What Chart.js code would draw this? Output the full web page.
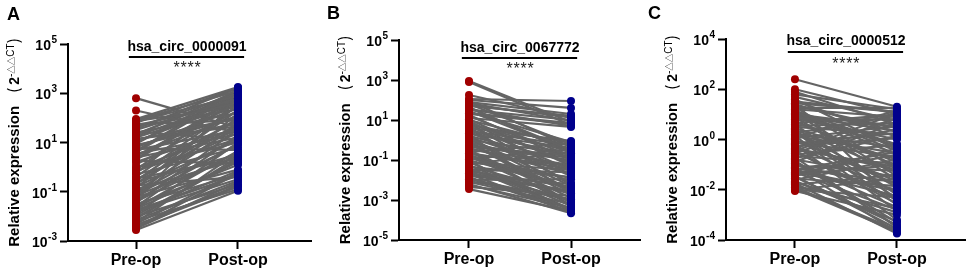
<!DOCTYPE html>
<html>
<head>
<meta charset="utf-8">
<script src="https://cdn.jsdelivr.net/npm/chart.js@4.4.0/dist/chart.umd.min.js"></script>
<style>
  html, body { margin: 0; padding: 0; background: #fff; }
  #wrap { position: relative; width: 969px; height: 271px; overflow: hidden; }
  #wrap canvas { position: absolute; top: 0; }
</style>
</head>
<body>
<div id="wrap">
  <canvas id="cA" width="323" height="271" style="left:0px"></canvas>
  <canvas id="cB" width="323" height="271" style="left:323px"></canvas>
  <canvas id="cC" width="323" height="271" style="left:646px"></canvas>
</div>
<script>
const categories = ['Pre-op', 'Post-op'];
const panelLetters = ['A', 'B', 'C'];
const geneNames = ['hsa_circ_0000091', 'hsa_circ_0067772', 'hsa_circ_0000512'];

const yTicksA = [1e-3, 1e-1, 1e1, 1e3, 1e5];
const yTicksB = [1e-5, 1e-3, 1e-1, 1e1, 1e3, 1e5];
const yTicksC = [1e-4, 1e-2, 1e0, 1e2, 1e4];

// paired samples, same index = same patient
const preA = [
  631, 200, 89, 79, 71, 63, 50, 40, 32, 25,
  20, 16, 12.6, 10, 7.9, 6.3, 5.0, 4.0, 3.2, 2.5,
  2.0, 1.6, 1.26, 1.0, 0.79, 0.63, 0.5, 0.4, 0.32, 0.25,
  0.2, 0.16, 0.126, 0.1, 0.079, 0.063, 0.05, 0.04, 0.032, 0.025,
  0.02, 0.016, 0.0126, 0.01, 0.0079, 0.0063, 0.005, 0.004, 0.0032, 0.0028,
  56, 22, 8.9, 2.8, 0.89, 0.28, 0.089, 0.028, 0.56, 5.6,
  28, 0.0089, 0.056, 1.8, 0.18, 11, 0.014, 3.5, 45, 0.0056,
  76, 35, 14, 7.1, 2.2, 0.71, 0.35, 0.22, 0.14, 0.071,
  0.045, 0.035, 0.022, 0.018, 0.011, 0.0071, 0.0045, 0.0035, 4.5, 18
];
const postA = [
  40, 25, 1780, 1260, 794, 1580, 398, 1000, 631, 158,
  1260, 316, 100, 794, 63, 251, 32, 1000, 126, 16,
  501, 40, 200, 10, 631, 79, 6.3, 316, 25, 3.2,
  100, 12.6, 2.0, 50, 7.9, 0.79, 158, 4.0, 0.5, 20,
  1.6, 0.32, 10, 0.2, 2.5, 0.126, 0.63, 0.16, 0.25, 0.11,
  79, 890, 1410, 398, 32, 200, 16, 1.26, 1120, 5.0,
  12.6, 2.0, 560, 1.41, 0.4, 450, 0.71, 22, 224, 4.0,
  282, 1660, 45, 112, 708, 14, 2.2, 56, 355, 2.8,
  8.9, 35, 4.5, 0.45, 1.8, 0.28, 0.18, 0.56, 1320, 562
];

const preB = [
  891, 794, 178, 112, 100, 79, 63, 50, 40, 32,
  25, 20, 16, 12.6, 10, 7.9, 6.3, 5.0, 4.0, 3.2,
  2.5, 2.0, 1.6, 1.26, 1.0, 0.79, 0.63, 0.5, 0.4, 0.32,
  0.25, 0.2, 0.16, 0.126, 0.1, 0.079, 0.063, 0.05, 0.04, 0.032,
  0.025, 0.02, 0.016, 0.0126, 0.01, 0.0079, 0.0063, 0.0045, 0.0035, 89,
  35, 18, 7.1, 2.8, 1.12, 0.45, 0.18, 0.071, 0.028, 0.011,
  56, 8.9, 0.89, 0.056, 28, 4.5, 0.35, 0.022, 1.8, 0.11,
  71, 45, 22, 11, 5.6, 3.5, 2.2, 1.41, 0.71, 0.56,
  0.28, 0.22, 0.14, 0.089, 0.045, 0.035, 0.018, 0.014, 0.0089, 0.0056
];
const postB = [
  7.9, 5.6, 12.6, 89, 40, 20, 0.63, 16, 0.32, 10,
  0.79, 6.3, 0.16, 4.5, 0.5, 0.063, 0.25, 0.032, 0.89, 0.126,
  0.016, 0.4, 0.079, 0.005, 0.2, 0.04, 0.0025, 0.1, 0.02, 0.00126,
  0.71, 0.05, 0.00079, 0.0126, 0.004, 0.0005, 0.25, 0.002, 0.00032, 0.025,
  0.001, 0.00025, 0.0063, 0.0004, 0.011, 0.00063, 0.00022, 0.0016, 0.00028, 0.45,
  5.0, 0.1, 0.0056, 0.56, 0.0032, 0.16, 0.004, 0.032, 0.0045, 0.001,
  14, 0.018, 0.0007, 0.00035, 0.28, 0.0022, 0.056, 0.0028, 0.00045, 0.35,
  8.9, 0.22, 7.1, 0.05, 0.71, 0.0071, 0.2, 0.028, 0.0018, 0.126,
  0.00056, 0.035, 0.0035, 0.00028, 0.014, 0.00089, 0.0025, 0.00025, 0.0011, 0.0004
];

const preC = [
  251, 100, 79, 63, 40, 32, 25, 20, 16, 12.6,
  10, 7.9, 6.3, 5.0, 4.0, 3.2, 2.5, 2.0, 1.6, 1.26,
  1.0, 0.79, 0.63, 0.5, 0.4, 0.32, 0.25, 0.2, 0.16, 0.126,
  0.1, 0.079, 0.063, 0.05, 0.04, 0.032, 0.025, 0.02, 0.016, 0.0126,
  0.01, 0.0089, 35, 18, 8.9, 4.5, 2.2, 1.12, 0.56, 0.28,
  0.14, 0.071, 0.035, 0.018, 28, 7.1, 1.8, 0.45, 0.11, 0.045,
  22, 2.8, 0.35, 0.056, 11, 0.71, 0.022, 1.4, 0.18, 14,
  50, 28, 14, 8.9, 5.6, 3.5, 2.2, 1.41, 0.89, 0.56,
  0.35, 0.22, 0.14, 0.089, 0.056, 0.035, 0.028, 0.014, 0.011, 0.01
];
const postC = [
  20, 10, 4.0, 16, 0.4, 12.6, 2.0, 0.063, 7.9, 0.25,
  3.2, 0.025, 6.3, 0.126, 0.0063, 1.6, 0.05, 0.0025, 0.5, 14,
  0.016, 0.2, 0.00063, 2.5, 0.079, 0.004, 0.63, 0.00032, 0.032, 5.0,
  0.01, 0.0002, 0.32, 0.0016, 0.1, 0.0004, 0.16, 0.00126, 0.04, 0.00025,
  0.005, 0.001, 1.26, 18, 0.56, 10, 0.0126, 3.5, 0.0079, 7.1,
  0.0005, 0.02, 0.45, 0.00018, 0.0032, 1.0, 8.9, 0.063, 0.002, 0.25,
  2.8, 0.16, 11, 0.0089, 0.035, 1.8, 0.00056, 0.0014, 1.4, 0.63,
  5.6, 12.6, 0.35, 2.2, 0.089, 4.5, 0.0045, 0.28, 0.022, 1.12,
  0.0028, 0.11, 0.00035, 0.056, 0.0056, 0.00028, 0.014, 0.0018, 0.00022, 0.028
];

const RED = '#a00000';
const BLUE = '#00008c';
const LINE = '#646464';
const FONT = "'Liberation Sans', Arial, sans-serif";
const CJK = "'Noto Sans CJK SC', 'DejaVu Sans', sans-serif";

// pixel layout of each panel inside its own canvas
const panels = [
  { id: 'cA', pre: preA, post: postA, ticks: yTicksA, left: 68, right: 311, top: 44, bottom: 241,
    xMin: -0.667, xMax: 1.716, titleY: 51, barY: 57, starY: 64, letterX: 7, letterY: 20 },
  { id: 'cB', pre: preB, post: postB, ticks: yTicksB, left: 76, right: 317, top: 40, bottom: 240,
    xMin: -0.686, xMax: 1.676, titleY: 52, barY: 58, starY: 65, letterX: 4, letterY: 18.5 },
  { id: 'cC', pre: preC, post: postC, ticks: yTicksC, left: 80, right: 319, top: 39, bottom: 240,
    xMin: -0.676, xMax: 1.667, titleY: 45, barY: 52, starY: 60, letterX: 2, letterY: 18.5 },
];

Chart.defaults.font.family = FONT;
Chart.defaults.color = '#000';

// text run with mixed fonts; {gap} entries just add space
const partWidth = (ctx, p) => {
  if (p.gap) return p.gap;
  ctx.font = p.font;
  return ctx.measureText(p.t).width;
};
const drawRun = (ctx, parts, x, y) => {
  let cx = x;
  parts.forEach(p => {
    if (!p.gap) {
      ctx.font = p.font;
      ctx.fillText(p.t, cx, y + (p.dy || 0));
    }
    cx += partWidth(ctx, p);
  });
};
const runWidth = (ctx, parts) => parts.reduce((w, p) => w + partWidth(ctx, p), 0);

const yTitle = [
  { t: 'Relative expression', font: 'bold 15px ' + FONT },
  { gap: 13 },
  { t: '(', font: '15px ' + CJK },
  { gap: 3 },
  { t: '2', font: 'bold 14px ' + FONT },
  { t: '-', font: '10px ' + FONT, dy: -5 },
  { t: '△△', font: '8.5px ' + CJK, dy: -5 },
  { t: 'CT', font: '10px ' + FONT, dy: -5 },
  { t: ')', font: '15px ' + CJK },
];

const makeDecor = (panel, idx) => ({
  id: 'decor' + idx,
  afterDraw(chart) {
    const { ctx, scales: { x, y } } = chart;
    ctx.save();
    ctx.fillStyle = '#000';
    ctx.textBaseline = 'alphabetic';

    // panel letter
    ctx.font = 'bold 18px ' + FONT;
    ctx.textAlign = 'left';
    ctx.fillText(panelLetters[idx], panel.letterX, panel.letterY);

    // y tick labels 10^n
    ctx.textAlign = 'right';
    y.ticks.forEach(t => {
      const py = y.getPixelForValue(t.value);
      const e = String(Math.round(Math.log10(t.value)));
      const rx = panel.left - 11;
      ctx.font = 'bold 10px ' + FONT;
      ctx.fillText(e, rx, py - 1);
      const ew = ctx.measureText(e).width;
      ctx.font = 'bold 14px ' + FONT;
      ctx.fillText('10', rx - ew - 0.5, py + 6);
    });

    // rotated axis title
    ctx.textAlign = 'left';
    const cy = (y.top + y.bottom) / 2;
    ctx.translate(panel.left - 54, cy);
    ctx.rotate(-Math.PI / 2);
    const tw = runWidth(ctx, yTitle);
    drawRun(ctx, yTitle, -tw / 2, 4.5);
    ctx.setTransform(1, 0, 0, 1, 0, 0);

    // gene name, bracket, stars
    const x0 = x.getPixelForValue(0);
    const x1 = x.getPixelForValue(1);
    const mid = (x0 + x1) / 2;
    ctx.textAlign = 'center';
    ctx.font = 'bold 14px ' + FONT;
    ctx.fillText(geneNames[idx], mid, panel.titleY);
    ctx.strokeStyle = '#000';
    ctx.lineWidth = 2;
    ctx.beginPath();
    ctx.moveTo(x.getPixelForValue(-0.07), panel.barY);
    ctx.lineTo(x.getPixelForValue(1.06), panel.barY);
    ctx.stroke();
    ctx.fillStyle = '#222';
    ctx.font = '16px ' + FONT;
    for (let k = 0; k < 4; k++) {
      ctx.fillText('*', mid + (k - 1.5) * 7, panel.starY + 9);
    }
    ctx.restore();
  }
});

panels.forEach((panel, idx) => {
  const lines = panel.pre.map((v, i) => ({
    data: [{ x: 0, y: v }, { x: 1, y: panel.post[i] }],
    showLine: true,
    borderColor: LINE,
    borderWidth: 2.2,
    pointRadius: 0,
    order: 2,
  }));
  const dotsPre = {
    data: panel.pre.map(v => ({ x: 0, y: v })),
    backgroundColor: RED, borderWidth: 0, pointRadius: 4, order: 0,
  };
  const dotsPost = {
    data: panel.post.map(v => ({ x: 1, y: v })),
    backgroundColor: BLUE, borderWidth: 0, pointRadius: 4, order: 0,
  };

  const canvas = document.getElementById(panel.id);
  new Chart(canvas, {
    type: 'scatter',
    data: { datasets: [dotsPre, dotsPost, ...lines] },
    options: {
      responsive: false,
      animation: false,
      events: [],
      layout: { padding: { left: 0, top: panel.top, right: canvas.width - panel.right, bottom: 0 } },
      plugins: { legend: { display: false }, tooltip: { enabled: false } },
      scales: {
        x: {
          type: 'linear',
          min: panel.xMin,
          max: panel.xMax,
          afterBuildTicks: s => { s.ticks = [{ value: 0 }, { value: 1 }]; },
          afterFit: s => { s.height = canvas.height - panel.bottom; },
          ticks: {
            callback: v => categories[v],
            font: { size: 16, weight: 'bold' },
            color: '#000',
            padding: 2,
            maxRotation: 0,
            autoSkip: false,
          },
          grid: { display: true, drawOnChartArea: false, drawTicks: true, tickLength: 8, tickWidth: 2, tickColor: '#000' },
          border: { display: true, color: '#000', width: 2 },
        },
        y: {
          type: 'logarithmic',
          min: panel.ticks[0],
          max: panel.ticks[panel.ticks.length - 1],
          afterBuildTicks: s => { s.ticks = panel.ticks.map(v => ({ value: v, major: true })); },
          afterFit: s => { s.width = panel.left; },
          ticks: { display: false },
          grid: { display: true, drawOnChartArea: false, drawTicks: true, tickLength: 8, tickWidth: 2, tickColor: '#000' },
          border: { display: true, color: '#000', width: 2 },
        },
      },
    },
    plugins: [makeDecor(panel, idx)],
  });
});
</script>
</body>
</html>
